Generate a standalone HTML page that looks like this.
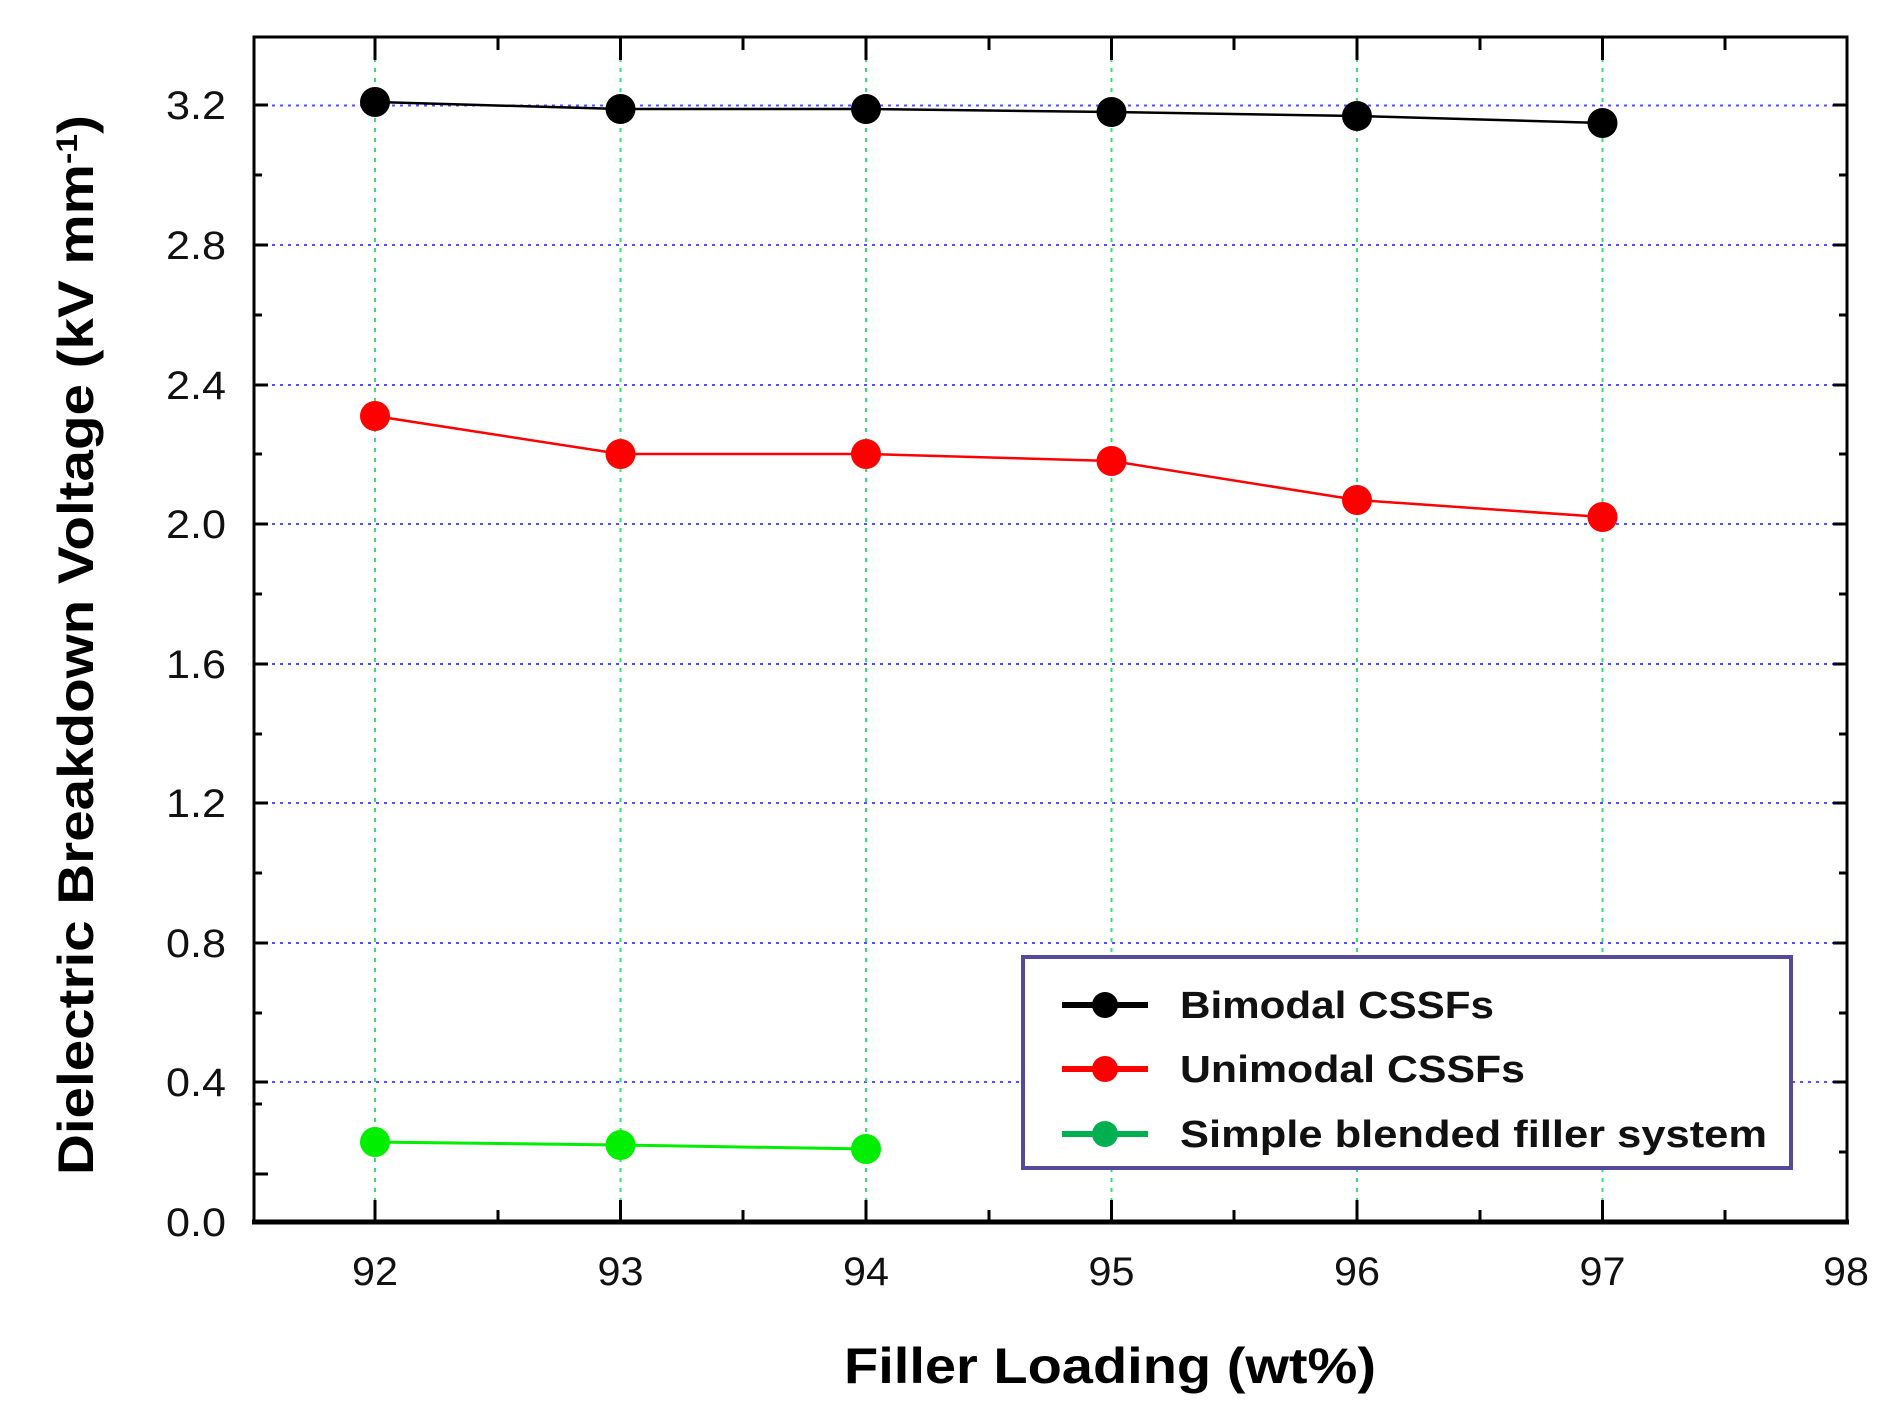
<!DOCTYPE html>
<html><head><meta charset="utf-8"><style>
html,body{margin:0;padding:0;background:#fff}
svg{display:block}
</style></head><body>
<svg width="1898" height="1426" viewBox="0 0 1898 1426" xmlns="http://www.w3.org/2000/svg">
<rect width="1898" height="1426" fill="#fff"/>
<g stroke="#5050ff" stroke-width="2" stroke-dasharray="3,5">
<line x1="256" y1="105.5" x2="1846" y2="105.5"/>
<line x1="256" y1="245" x2="1846" y2="245"/>
<line x1="256" y1="385" x2="1846" y2="385"/>
<line x1="256" y1="524" x2="1846" y2="524"/>
<line x1="256" y1="664" x2="1846" y2="664"/>
<line x1="256" y1="803" x2="1846" y2="803"/>
<line x1="256" y1="943" x2="1846" y2="943"/>
<line x1="256" y1="1082" x2="1846" y2="1082"/>
</g>
<g stroke="#33e070" stroke-width="2" stroke-dasharray="4,6">
<line x1="375" y1="38" x2="375" y2="1220"/>
<line x1="620.5" y1="38" x2="620.5" y2="1220"/>
<line x1="866" y1="38" x2="866" y2="1220"/>
<line x1="1111.5" y1="38" x2="1111.5" y2="1220"/>
<line x1="1357" y1="38" x2="1357" y2="1220"/>
<line x1="1602.5" y1="38" x2="1602.5" y2="1220"/>
</g>
<g stroke="#000" stroke-width="3">
<line x1="253" y1="1174" x2="268" y2="1174"/><line x1="253" y1="1104" x2="262" y2="1104"/>
<line x1="253" y1="1082" x2="268" y2="1082"/><line x1="253" y1="1013" x2="262" y2="1013"/>
<line x1="253" y1="943" x2="268" y2="943"/><line x1="253" y1="873" x2="262" y2="873"/>
<line x1="253" y1="803" x2="268" y2="803"/><line x1="253" y1="734" x2="262" y2="734"/>
<line x1="253" y1="664" x2="268" y2="664"/><line x1="253" y1="594" x2="262" y2="594"/>
<line x1="253" y1="524" x2="268" y2="524"/><line x1="253" y1="454" x2="262" y2="454"/>
<line x1="253" y1="385" x2="268" y2="385"/><line x1="253" y1="315" x2="262" y2="315"/>
<line x1="253" y1="245" x2="268" y2="245"/><line x1="253" y1="175" x2="262" y2="175"/>
<line x1="253" y1="105" x2="268" y2="105"/>
<line x1="1848" y1="1152" x2="1839" y2="1152"/>
<line x1="1848" y1="1082" x2="1833" y2="1082"/><line x1="1848" y1="1013" x2="1839" y2="1013"/>
<line x1="1848" y1="943" x2="1833" y2="943"/><line x1="1848" y1="873" x2="1839" y2="873"/>
<line x1="1848" y1="803" x2="1833" y2="803"/><line x1="1848" y1="734" x2="1839" y2="734"/>
<line x1="1848" y1="664" x2="1833" y2="664"/><line x1="1848" y1="594" x2="1839" y2="594"/>
<line x1="1848" y1="524" x2="1833" y2="524"/><line x1="1848" y1="454" x2="1839" y2="454"/>
<line x1="1848" y1="385" x2="1833" y2="385"/><line x1="1848" y1="315" x2="1839" y2="315"/>
<line x1="1848" y1="245" x2="1833" y2="245"/><line x1="1848" y1="175" x2="1839" y2="175"/>
<line x1="1848" y1="105" x2="1833" y2="105"/>
</g>
<g stroke="#000" stroke-width="3">
<line x1="375" y1="1222" x2="375" y2="1200"/><line x1="498" y1="1222" x2="498" y2="1210"/>
<line x1="620.5" y1="1222" x2="620.5" y2="1200"/><line x1="743" y1="1222" x2="743" y2="1210"/>
<line x1="866" y1="1222" x2="866" y2="1200"/><line x1="989" y1="1222" x2="989" y2="1210"/>
<line x1="1111.5" y1="1222" x2="1111.5" y2="1200"/><line x1="1234" y1="1222" x2="1234" y2="1210"/>
<line x1="1357" y1="1222" x2="1357" y2="1200"/><line x1="1480" y1="1222" x2="1480" y2="1210"/>
<line x1="1602.5" y1="1222" x2="1602.5" y2="1200"/><line x1="1725" y1="1222" x2="1725" y2="1210"/>
<line x1="375" y1="36" x2="375" y2="60"/><line x1="498" y1="36" x2="498" y2="50"/>
<line x1="620.5" y1="36" x2="620.5" y2="60"/><line x1="743" y1="36" x2="743" y2="50"/>
<line x1="866" y1="36" x2="866" y2="60"/><line x1="989" y1="36" x2="989" y2="50"/>
<line x1="1111.5" y1="36" x2="1111.5" y2="60"/><line x1="1234" y1="36" x2="1234" y2="50"/>
<line x1="1357" y1="36" x2="1357" y2="60"/><line x1="1480" y1="36" x2="1480" y2="50"/>
<line x1="1602.5" y1="36" x2="1602.5" y2="60"/><line x1="1725" y1="36" x2="1725" y2="50"/>
</g>
<rect x="254" y="37" width="1593" height="1184" fill="none" stroke="#000" stroke-width="3"/>
<line x1="252" y1="1222" x2="1849" y2="1222" stroke="#000" stroke-width="5"/>
<g font-family="Liberation Sans, sans-serif" font-size="40" fill="#111" text-anchor="end">
<text x="226" y="119" textLength="60" lengthAdjust="spacingAndGlyphs">3.2</text><text x="226" y="259" textLength="60" lengthAdjust="spacingAndGlyphs">2.8</text><text x="226" y="399" textLength="60" lengthAdjust="spacingAndGlyphs">2.4</text>
<text x="226" y="538" textLength="60" lengthAdjust="spacingAndGlyphs">2.0</text><text x="226" y="678" textLength="60" lengthAdjust="spacingAndGlyphs">1.6</text><text x="226" y="817" textLength="60" lengthAdjust="spacingAndGlyphs">1.2</text>
<text x="226" y="957" textLength="60" lengthAdjust="spacingAndGlyphs">0.8</text><text x="226" y="1096" textLength="60" lengthAdjust="spacingAndGlyphs">0.4</text><text x="226" y="1236" textLength="60" lengthAdjust="spacingAndGlyphs">0.0</text>
</g>
<g font-family="Liberation Sans, sans-serif" font-size="40" fill="#111" text-anchor="middle">
<text x="375" y="1285" textLength="46" lengthAdjust="spacingAndGlyphs">92</text><text x="620.5" y="1285" textLength="46" lengthAdjust="spacingAndGlyphs">93</text><text x="866" y="1285" textLength="46" lengthAdjust="spacingAndGlyphs">94</text>
<text x="1111.5" y="1285" textLength="46" lengthAdjust="spacingAndGlyphs">95</text><text x="1357" y="1285" textLength="46" lengthAdjust="spacingAndGlyphs">96</text><text x="1602.5" y="1285" textLength="46" lengthAdjust="spacingAndGlyphs">97</text><text x="1846" y="1285" textLength="46" lengthAdjust="spacingAndGlyphs">98</text>
</g>
<text x="1110" y="1383" font-family="Liberation Sans, sans-serif" font-weight="bold" font-size="50" text-anchor="middle" textLength="532" lengthAdjust="spacingAndGlyphs">Filler Loading (wt%)</text>
<text transform="translate(93,645) rotate(-90)" font-family="Liberation Sans, sans-serif" font-weight="bold" font-size="50" text-anchor="middle" textLength="1060" lengthAdjust="spacingAndGlyphs">Dielectric Breakdown Voltage (kV mm<tspan baseline-shift="super" font-size="30">-1</tspan>)</text>
<polyline points="375,102 620.5,109 866,109 1111.5,112 1357,116 1602.5,123" fill="none" stroke="#000" stroke-width="2.5"/>
<g fill="#000"><circle cx="375" cy="102" r="15"/><circle cx="620.5" cy="109" r="15"/><circle cx="866" cy="109" r="15"/><circle cx="1111.5" cy="112" r="15"/><circle cx="1357" cy="116" r="15"/><circle cx="1602.5" cy="123" r="15"/></g>
<polyline points="375,416 620.5,454 866,454 1111.5,461 1357,500 1602.5,517" fill="none" stroke="#f00" stroke-width="2.5"/>
<g fill="#f00"><circle cx="375" cy="416" r="15"/><circle cx="620.5" cy="454" r="15"/><circle cx="866" cy="454" r="15"/><circle cx="1111.5" cy="461" r="15"/><circle cx="1357" cy="500" r="15"/><circle cx="1602.5" cy="517" r="15"/></g>
<polyline points="375,1142 620.5,1145 866,1149" fill="none" stroke="#00ee00" stroke-width="3"/>
<g fill="#00ee00"><circle cx="375" cy="1142" r="15"/><circle cx="620.5" cy="1145" r="15"/><circle cx="866" cy="1149" r="15"/></g>
<rect x="1023" y="957" width="768" height="211" fill="#fff" stroke="#554a99" stroke-width="4"/>
<g stroke-width="6">
<line x1="1062" y1="1005" x2="1148" y2="1005" stroke="#000"/>
<line x1="1062" y1="1069" x2="1148" y2="1069" stroke="#f00"/>
<line x1="1062" y1="1134" x2="1148" y2="1134" stroke="#00b050"/>
</g>
<circle cx="1105" cy="1005" r="13" fill="#000"/>
<circle cx="1105" cy="1069" r="13" fill="#f00"/>
<circle cx="1105" cy="1134" r="13" fill="#00b050"/>
<g font-family="Liberation Sans, sans-serif" font-weight="bold" font-size="38" fill="#111">
<text x="1180" y="1018" textLength="314" lengthAdjust="spacingAndGlyphs">Bimodal CSSFs</text>
<text x="1180" y="1082" textLength="345" lengthAdjust="spacingAndGlyphs">Unimodal CSSFs</text>
<text x="1180" y="1147" textLength="587" lengthAdjust="spacingAndGlyphs">Simple blended filler system</text>
</g>
</svg>
</body></html>
